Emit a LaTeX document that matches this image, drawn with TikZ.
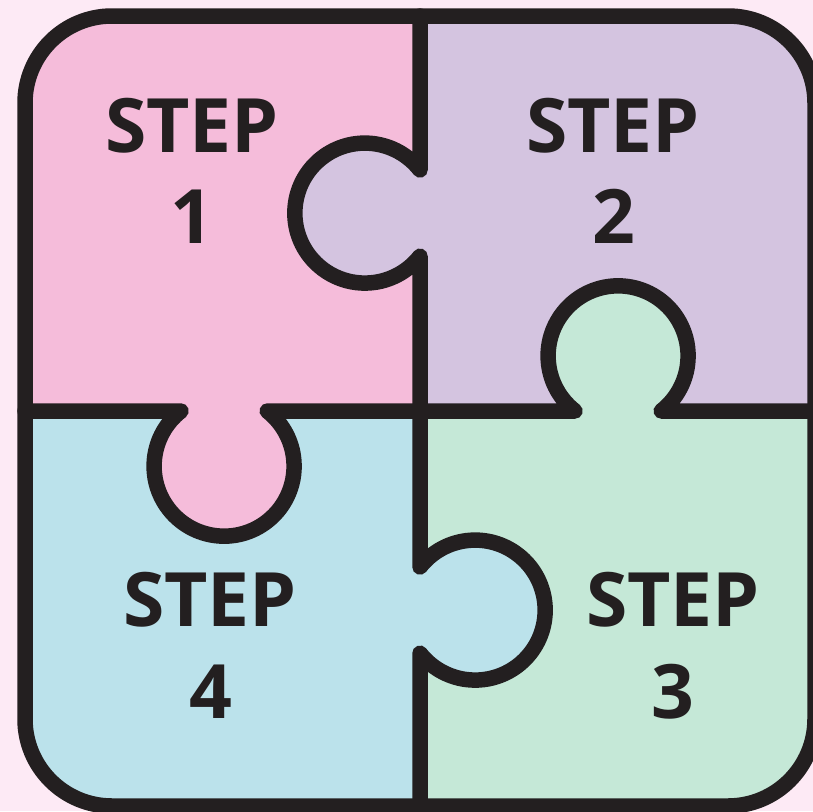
\documentclass[tikz,border=0pt]{standalone}
\usepackage{fontspec}
\setmainfont{Open Sans}
\definecolor{bgpink}{HTML}{FDEAF5}
\definecolor{pinkp}{HTML}{F5BCDA}
\definecolor{purplep}{HTML}{D4C4E0}
\definecolor{greenp}{HTML}{C5E8D7}
\definecolor{bluep}{HTML}{BBE2EB}
\definecolor{ink}{HTML}{231F20}
\begin{document}
\begin{tikzpicture}[x=1pt,y=1pt,
  edge/.style={draw=ink,line width=15.5pt,line join=round,line cap=round},
  label/.style={anchor=base,inner sep=0pt,text=ink,font=\fontsize{75}{91}\selectfont\bfseries}]
\useasboundingbox (0,0) rectangle (813,-811);
\fill[bgpink] (0,0) rectangle (813,-811);
\begin{scope}
  \clip[rounded corners=87pt] (25,-16) rectangle (815,-806);
  \fill[pinkp]   (0,0) rectangle (420,-411);
  \fill[purplep] (420,0) rectangle (830,-411);
  \fill[greenp]  (420,-411) rectangle (830,-830);
  \fill[bluep]   (0,-411) rectangle (420,-830);
  \fill[purplep] (365,-213) circle[radius=70];
  \fill[greenp]  (618,-356) circle[radius=70];
  \fill[pinkp]   (224,-466) circle[radius=70];
  \fill[bluep]   (475,-610) circle[radius=70];
\end{scope}
% frame
\draw[edge,rounded corners=87pt] (25,-16) rectangle (815,-806);
% dividers
\draw[edge] (420,-16) -- (420,-170) arc[start angle=38,end angle=322,radius=70] -- (420,-411);
\draw[edge] (420,-411) -- (575,-411) arc[start angle=232,end angle=-52,radius=70] -- (815,-411);
\draw[edge] (25,-411) -- (181,-411) arc[start angle=128,end angle=412,radius=70] -- (420,-411);
\draw[edge] (420,-411) -- (420,-567) arc[start angle=142,end angle=-142,radius=70] -- (420,-806);
% labels
\node[label] (s1a) at (192,-152) {STEP};
\node[label] (s1b) at (192,-243) {1};
\node[label] (s2a) at (613,-152) {STEP};
\node[label] (s2b) at (614,-243) {2};
\node[label] (s4a) at (210,-626) {STEP};
\node[label] (s4b) at (211,-718) {4};
\node[label] (s3a) at (673,-626) {STEP};
\node[label] (s3b) at (673,-718) {3};
\end{tikzpicture}
\end{document}
